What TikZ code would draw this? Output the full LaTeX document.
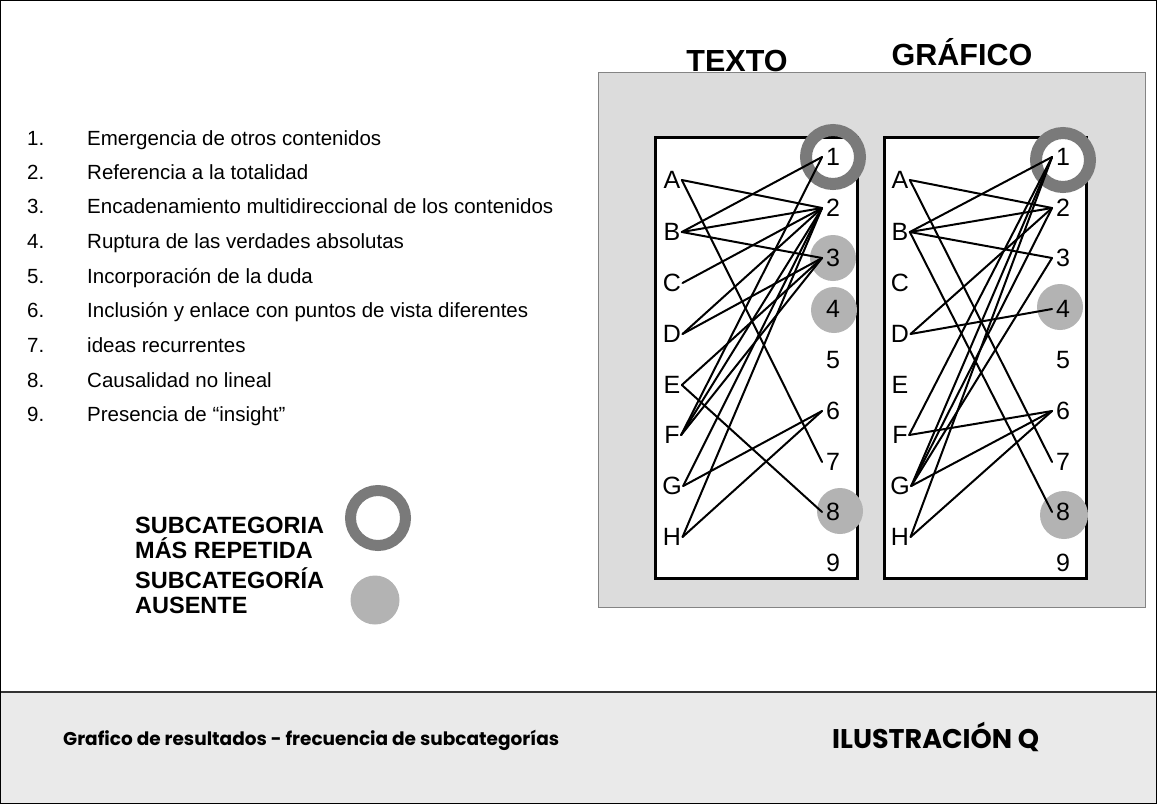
\documentclass[tikz,border=0pt]{standalone}
\usepackage{fontspec}
\setmainfont{Liberation Sans}
\newfontfamily\footfont{Poppins}
\definecolor{panelbg}{HTML}{DCDCDC}
\definecolor{footbg}{HTML}{EAEAEA}
\definecolor{ringc}{HTML}{7A7A7A}
\definecolor{dotc}{HTML}{B3B3B3}
\begin{document}
\begin{tikzpicture}[x=1pt,y=-1pt,
  conn/.style={line width=2pt, line cap=round},
  lt/.style={font=\fontsize{25}{25}\selectfont, inner sep=0pt, outer sep=1.5pt},
  nm/.style={font=\fontsize{25}{25}\selectfont, inner sep=0pt, outer sep=4pt},
  item/.style={font=\fontsize{20.5}{24}\selectfont, inner sep=0pt, anchor=base west},
  leg/.style={font=\bfseries\fontsize{23.5}{25}\selectfont, inner sep=0pt, anchor=base west},
  ttl/.style={font=\bfseries\fontsize{30.5}{31}\selectfont, inner sep=0pt, anchor=base},
  ring/.style={draw=ringc, line width=12pt},
  dot/.style={fill=dotc},
  colbox/.style={draw=black, fill=white, line width=3pt}
]
\useasboundingbox (0,0) rectangle (1157,804);
% frame and footer band
\fill[footbg] (1,692) rectangle (1156,803);
\draw[line width=2pt, black!80] (1,692) -- (1156,692);
\draw[line width=1.3pt] (0.7,0.7) rectangle (1156.3,803.3);
% panel
\draw[panelbg!60!black, fill=panelbg, line width=1pt] (598,72) rectangle (1145,607);
% titles
\node[ttl] (ttexto) at (737,71) {TEXTO};
\node[ttl] (tgraf) at (962,65) {GRÁFICO};
% boxes
\draw[colbox] (655,137) rectangle (857,578);
\draw[colbox] (884,137) rectangle (1086,578);
% highlight circles
\draw[ring] (833,157) circle[radius=27];
\fill[dot] (833,258) circle[radius=23];
\fill[dot] (834,310) circle[radius=23];
\fill[dot] (840,511) circle[radius=23];
\draw[ring] (1063,160) circle[radius=27];
\fill[dot] (1060,307) circle[radius=23];
\fill[dot] (1064,515) circle[radius=24];
% labels
\foreach \l/\yy in {A/180,B/232,C/283,D/334,E/385,F/435,G/486,H/537}{
  \node[lt] (t\l) at (672,\yy) {\l};
  \node[lt] (g\l) at (900,\yy) {\l};
}
\foreach \n/\yy in {1/157,2/208,3/258,4/309,5/360,6/411,7/462,8/512,9/563}{
  \node[nm] (t\n) at (833,\yy) {\n};
  \node[nm] (g\n) at (1063,\yy) {\n};
}
% TEXTO connectors
\foreach \a/\b in {A/2,A/7,B/1,B/2,B/3,C/2,D/2,D/3,E/3,E/8,F/1,F/2,F/3,G/2,G/6,H/2,H/6}{
  \draw[conn] (t\a.east) -- (t\b.west);
}
% GRAFICO connectors
\foreach \a/\b in {A/2,A/7,B/1,B/2,B/3,B/8,D/2,D/4,F/1,F/6,G/1,G/2,G/3,G/6,H/1,H/6}{
  \draw[conn] (g\a.east) -- (g\b.west);
}
% list
\node[item] (n1) at (27,145) {1.};
\node[item] (i1) at (87,145) {Emergencia de otros contenidos};
\node[item] (n2) at (27,179) {2.};
\node[item] (i2) at (87,179) {Referencia a la totalidad};
\node[item] (n3) at (27,213) {3.};
\node[item] (i3) at (87,213) {Encadenamiento multidireccional de los contenidos};
\node[item] (n4) at (27,248) {4.};
\node[item] (i4) at (87,248) {Ruptura de las verdades absolutas};
\node[item] (n5) at (27,283) {5.};
\node[item] (i5) at (87,283) {Incorporación de la duda};
\node[item] (n6) at (27,317) {6.};
\node[item] (i6) at (87,317) {Inclusión y enlace con puntos de vista diferentes};
\node[item] (n7) at (27,352) {7.};
\node[item] (i7) at (87,352) {ideas recurrentes};
\node[item] (n8) at (27,387) {8.};
\node[item] (i8) at (87,387) {Causalidad no lineal};
\node[item] (n9) at (27,421) {9.};
\node[item] (i9) at (87,421) {Presencia de “insight”};
% legend
\node[leg] (l1) at (135,533) {SUBCATEGORIA};
\node[leg] (l2) at (135,558) {MÁS REPETIDA};
\draw[ring, line width=11pt] (378,518) circle[radius=27.5];
\node[leg] (l3) at (135,588) {SUBCATEGORÍA};
\node[leg] (l4) at (135,613) {AUSENTE};
\fill[dot] (375,600) circle[radius=24.5];
% footer
\node[inner sep=0pt, anchor=base west, font=\footfont\bfseries\fontsize{18.5}{21}\selectfont] (foot) at (63,745) {Grafico de resultados - frecuencia de subcategorías};
\node[inner sep=0pt, anchor=base west, font=\footfont\bfseries\fontsize{27}{29}\selectfont] (ilus) at (832,748) {ILUSTRACIÓN Q};
\end{tikzpicture}
\end{document}
